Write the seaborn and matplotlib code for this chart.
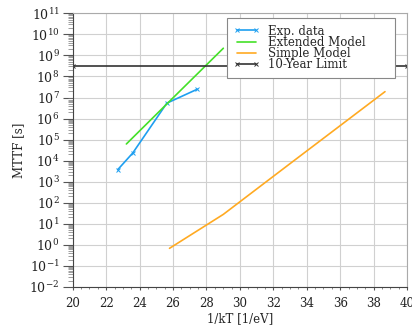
import numpy as np
import pandas as pd
import matplotlib
matplotlib.use("Agg")
import matplotlib.pyplot as plt
import seaborn as sns
from matplotlib.ticker import LogLocator, MultipleLocator

# Inverse thermal energy 1/kT [1/eV] and mean time to failure [s]
exp_x = [22.69, 23.59, 25.63, 27.46]
exp_y = [3.7e3, 2.3e4, 5.4e6, 2.5e7]

ext_x = [23.21, 25.79, 29.01]
ext_y = [6.2e4, 6.6e6, 2.2e9]

simple_x = [25.79, 29.01, 33.16, 38.68]
simple_y = [0.68, 2.8e1, 9.0e3, 1.9e7]

limit_x = [20.0, 40.0]
limit_y = [3.156e8, 3.156e8]

labels = ["Exp. data", "Extended Model", "Simple Model", "10-Year Limit"]
colors = ["#1e9ff0", "#44e028", "#ffaa22", "#333333"]
markers = ["x", None, None, "x"]

sns.set_style("whitegrid")
plt.rcParams["font.family"] = ["DejaVu Serif"]
plt.rcParams["mathtext.fontset"] = "dejavuserif"
plt.rcParams["axes.unicode_minus"] = False

fig = plt.figure(figsize=(4.12, 3.26), dpi=100)
ax = fig.add_axes([0.1765, 0.120, 0.8115, 0.839])

series = [(exp_x, exp_y), (ext_x, ext_y), (simple_x, simple_y), (limit_x, limit_y)]
for (xs, ys), lab, col, mk in zip(series, labels, colors, markers):
    df = pd.DataFrame({"x": xs, "y": ys})
    sns.lineplot(data=df, x="x", y="y", ax=ax, color=col, label=lab,
                 marker=mk, markersize=2.5, markeredgewidth=0.7,
                 markeredgecolor=col, linewidth=1.2)

ax.set_yscale("log")
ax.set_xlim(20, 40)
ax.set_ylim(1e-2, 1e11)
ax.xaxis.set_major_locator(MultipleLocator(2))
ax.xaxis.set_minor_locator(MultipleLocator(0.5))
ax.yaxis.set_major_locator(LogLocator(base=10, numticks=20))
ax.yaxis.set_minor_locator(LogLocator(base=10, subs=np.arange(2, 10), numticks=20))

ax.grid(True, which="major", color="#d0d0d0", linewidth=0.8)
ax.grid(False, which="minor")
ax.tick_params(axis="both", which="both", labelcolor="#222222",
               bottom=True, left=True, direction="out")
ax.tick_params(axis="x", which="major", labelsize=8.5, length=2.5, width=0.8,
               color="#555555", pad=5)
ax.tick_params(axis="x", which="minor", length=1.5, width=0.6, color="#777777")
ax.tick_params(axis="y", which="major", labelsize=9, length=7, width=0.8,
               color="#555555", pad=2.5)
ax.tick_params(axis="y", which="minor", length=3.5, width=0.5, color="#777777")
for sp in ax.spines.values():
    sp.set_color("#aaaaaa")
    sp.set_linewidth(0.8)
ax.spines["left"].set_color("#444444")
ax.spines["bottom"].set_color("#444444")

ax.set_xlabel("1/kT [1/eV]", fontsize=8.5, labelpad=1)
ax.set_ylabel("MTTF [s]", fontsize=8.5, labelpad=3)

leg = ax.legend(loc="upper right", bbox_to_anchor=(0.4615, 0.6, 0.5025, 0.383),
                mode="expand", borderaxespad=0,
                fontsize=8.5, labelspacing=-0.15, handlelength=2.2, handletextpad=0.75,
                borderpad=0.55, fancybox=False, framealpha=1, edgecolor="#888888",
                numpoints=2)
leg.get_frame().set_linewidth(0.8)

fig.savefig("out.png", dpi=100)
